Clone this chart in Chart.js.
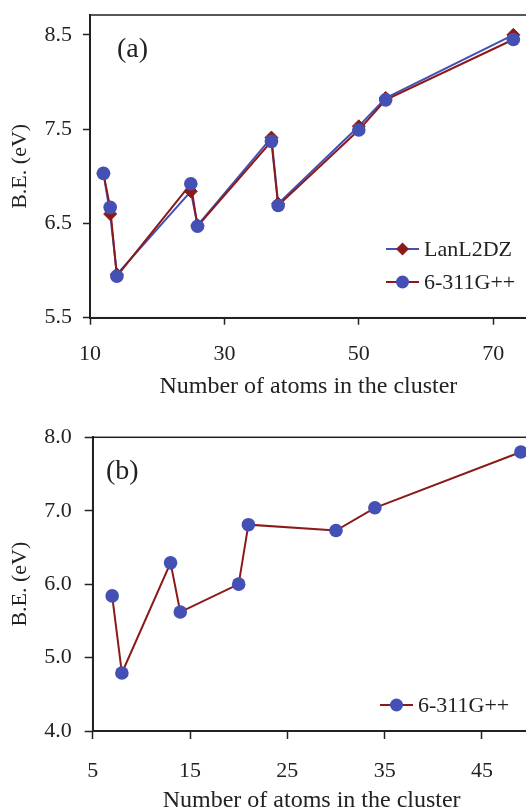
<!DOCTYPE html>
<html>
<head>
<meta charset="utf-8">
<script src="https://cdn.jsdelivr.net/npm/chart.js@4.4.0/dist/chart.umd.min.js"></script>
<style>
  html, body { margin: 0; padding: 0; background: #fff; width: 526px; height: 812px; overflow: hidden; }
  .panel { position: absolute; left: 0; }
</style>
</head>
<body>
<div class="panel" style="top:0"><canvas id="chartA" width="540" height="400"></canvas></div>
<div class="panel" style="top:400px"><canvas id="chartB" width="540" height="414"></canvas></div>
<script>
// panel (a)
const atomsA = [12, 13, 14, 25, 26, 37, 38, 50, 54, 73];
const lanl2dzA = [7.03, 6.60, 5.96, 6.84, 6.48, 7.41, 6.71, 7.53, 7.83, 8.50];
const g311A = [7.03, 6.67, 5.94, 6.92, 6.47, 7.37, 6.69, 7.49, 7.81, 8.45];
const xTicksA = [10, 30, 50, 70];
const yTicksA = [5.5, 6.5, 7.5, 8.5];

// panel (b)
const atomsB = [7, 8, 13, 14, 20, 21, 30, 34, 49];
const g311B = [5.84, 4.79, 6.29, 5.62, 6.00, 6.81, 6.73, 7.04, 7.80];
const xTicksB = [5, 15, 25, 35, 45];
const yTicksB = [4.0, 5.0, 6.0, 7.0, 8.0];

const BLUE = '#4450b4';
const RED = '#8b1a1a';
const INK = '#222';
const FONT = "'Liberation Serif', 'Times New Roman', serif";

function pts(xs, ys) {
  return xs.map((x, i) => ({ x: x, y: ys[i] }));
}

// box around the plot area, panel letter and the small legend
const decor = {
  id: 'decor',
  afterDraw(chart, args, opts) {
    const ctx = chart.ctx;
    const a = chart.chartArea;
    ctx.save();
    ctx.strokeStyle = INK;
    ctx.lineWidth = 1.5;
    ctx.strokeRect(a.left, a.top, a.right - a.left, a.bottom - a.top);

    ctx.fillStyle = INK;
    ctx.font = '28px ' + FONT;
    ctx.textBaseline = 'middle';
    ctx.textAlign = 'left';
    ctx.fillText(opts.label, opts.labelX, opts.labelY);

    ctx.font = '22px ' + FONT;
    opts.legend.forEach((item, i) => {
      const ds = chart.data.datasets[item];
      const y = opts.legendY + i * opts.legendGap;
      const x = opts.legendX;
      ctx.strokeStyle = ds.borderColor;
      ctx.lineWidth = 2;
      ctx.beginPath();
      ctx.moveTo(x, y);
      ctx.lineTo(x + 33, y);
      ctx.stroke();
      const cx = x + 16.5;
      ctx.fillStyle = ds.pointBackgroundColor;
      ctx.beginPath();
      if (ds.pointStyle === 'rectRot') {
        const r = 6.5;
        ctx.moveTo(cx, y - r);
        ctx.lineTo(cx + r, y);
        ctx.lineTo(cx, y + r);
        ctx.lineTo(cx - r, y);
        ctx.closePath();
      } else {
        ctx.arc(cx, y, 6.5, 0, Math.PI * 2);
      }
      ctx.fill();
      ctx.fillStyle = INK;
      ctx.fillText(ds.label, x + 38, y + 1);
    });
    ctx.restore();
  }
};

function axes(cfg) {
  return {
    x: {
      type: 'linear',
      min: cfg.xMin,
      max: cfg.xMax,
      afterBuildTicks: s => { s.ticks = cfg.xTicks.map(v => ({ value: v })); },
      afterFit: s => { s.height = cfg.xHeight; s.paddingLeft = 0; s.paddingRight = 0; },
      ticks: { color: INK, font: { family: FONT, size: 22 }, padding: cfg.xPad, maxRotation: 0 },
      grid: { drawOnChartArea: false, drawTicks: true, tickLength: cfg.tick, tickWidth: 1.5, tickColor: INK },
      border: { display: true, color: INK, width: 2 },
      title: { display: true, text: 'Number of atoms in the cluster', color: INK,
               font: { family: FONT, size: 24, lineHeight: 1.1 }, padding: { top: 0, bottom: 0 } }
    },
    y: {
      min: cfg.yMin,
      max: cfg.yMax,
      afterBuildTicks: s => { s.ticks = cfg.yTicks.map(v => ({ value: v })); },
      afterFit: s => { s.width = cfg.yWidth; s.paddingTop = 0; s.paddingBottom = 0; },
      ticks: { color: INK, font: { family: FONT, size: 22 }, padding: cfg.yPad,
               callback: v => v.toFixed(1) },
      grid: { drawOnChartArea: false, drawTicks: true, tickLength: cfg.tick, tickWidth: 1.5, tickColor: INK },
      border: { display: true, color: INK, width: 2 },
      title: { display: true, text: 'B.E. (eV)', color: INK,
               font: { family: FONT, size: 22, lineHeight: 1.2 }, padding: { top: 7, bottom: 0 } }
    }
  };
}

new Chart(document.getElementById('chartA'), {
  type: 'scatter',
  data: {
    datasets: [
      {
        label: 'LanL2DZ',
        data: pts(atomsA, lanl2dzA),
        showLine: true,
        borderColor: BLUE,
        borderWidth: 2,
        pointStyle: 'rectRot',
        pointRadius: 6.5,
        pointBackgroundColor: RED,
        pointBorderColor: RED,
        pointBorderWidth: 1,
        order: 2
      },
      {
        label: '6-311G++',
        data: pts(atomsA, g311A),
        showLine: true,
        borderColor: RED,
        borderWidth: 2,
        pointStyle: 'circle',
        pointRadius: 6.8,
        pointBackgroundColor: BLUE,
        pointBorderColor: BLUE,
        pointBorderWidth: 0,
        order: 1
      }
    ]
  },
  options: {
    responsive: false,
    animation: false,
    layout: { padding: { left: 0, top: 15, right: 13.2, bottom: 0 } },
    scales: axes({ xMin: 10, xMax: 75, xTicks: xTicksA, yMin: 5.5, yMax: 8.71, yTicks: yTicksA,
                   xHeight: 82.3, yWidth: 90, tick: 7, xPad: 16, yPad: 11 }),
    plugins: {
      legend: { display: false },
      tooltip: { enabled: false },
      decor: { label: '(a)', labelX: 117, labelY: 50,
               legend: [0, 1], legendX: 386, legendY: 249, legendGap: 33 }
    }
  },
  plugins: [decor]
});

new Chart(document.getElementById('chartB'), {
  type: 'scatter',
  data: {
    datasets: [
      {
        label: '6-311G++',
        data: pts(atomsB, g311B),
        showLine: true,
        borderColor: RED,
        borderWidth: 2,
        pointStyle: 'circle',
        pointRadius: 6.8,
        pointBackgroundColor: BLUE,
        pointBorderColor: BLUE,
        pointBorderWidth: 0
      }
    ]
  },
  options: {
    responsive: false,
    animation: false,
    layout: { padding: { left: 0, top: 37.3, right: 9.4, bottom: 0 } },
    scales: axes({ xMin: 5, xMax: 50, xTicks: xTicksB, yMin: 4, yMax: 8, yTicks: yTicksB,
                   xHeight: 83, yWidth: 92.7, tick: 8, xPad: 19.5, yPad: 13 }),
    plugins: {
      legend: { display: false },
      tooltip: { enabled: false },
      decor: { label: '(b)', labelX: 106, labelY: 71.7,
               legend: [0], legendX: 380, legendY: 305, legendGap: 33 }
    }
  },
  plugins: [decor]
});
</script>
</body>
</html>
